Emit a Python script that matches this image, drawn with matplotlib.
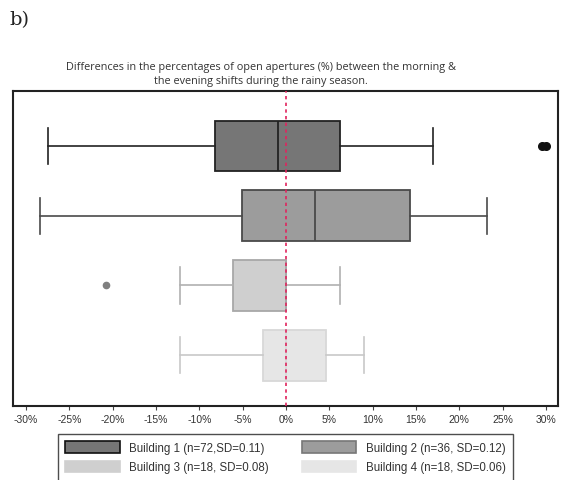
import matplotlib
matplotlib.use("Agg")
import matplotlib.pyplot as plt
from matplotlib.patches import Patch

# ---- data (percent) ----
labels = ["Building 1 (n=72,SD=0.11)", "Building 2 (n=36, SD=0.12)",
          "Building 3 (n=18, SD=0.08)", "Building 4 (n=18, SD=0.06)"]
whis_lo = [-27.5, -28.4, -12.2, -12.2]
q1 = [-8.2, -5.1, -6.1, -2.6]
median = [-0.9, 3.3, 0.0, 0.0]
q3 = [6.2, 14.3, 0.0, 4.6]
whis_hi = [17.0, 23.2, 6.2, 9.0]
fliers = [[29.5, 30.0], [], [-20.8], []]
xticks = [-30, -25, -20, -15, -10, -5, 0, 5, 10, 15, 20, 25, 30]

face = ["#767676", "#9c9c9c", "#cfcfcf", "#e6e6e6"]
edge = ["#222222", "#4a4a4a", "#a8a8a8", "#d8d8d8"]
whisk = ["#222222", "#4a4a4a", "#b0b0b0", "#c8c8c8"]
leg_edge = ["#111111", "#777777", "#d0d0d0", "#e6e6e6"]
flier_col = ["#111111", "#333333", "#808080", "#999999"]
flier_size = [5.5, 5, 4.5, 4]

fig = plt.figure(figsize=(5.67, 4.81), dpi=100)
ax = fig.add_axes([13/567, 1-407/481, 545/567, 315/481])

for i in range(4):
    st = dict(whislo=whis_lo[i], q1=q1[i], med=median[i], q3=q3[i],
              whishi=whis_hi[i], fliers=fliers[i])
    ax.bxp([st], positions=[i+1], vert=False, widths=0.73, patch_artist=True,
           capwidths=0.52, showfliers=True,
           boxprops=dict(facecolor=face[i], edgecolor=edge[i], linewidth=1.3),
           medianprops=dict(color=edge[i], linewidth=1.3),
           whiskerprops=dict(color=whisk[i], linewidth=1.2),
           capprops=dict(color=whisk[i], linewidth=1.2),
           flierprops=dict(marker='o', markersize=flier_size[i],
                           markerfacecolor=flier_col[i],
                           markeredgecolor=flier_col[i]))

ax.axvline(0, color="#e0245e", linestyle=(0, (2, 2)), linewidth=1.2, zorder=5)

ax.set_xlim(-31.5, 31.4)
ax.set_ylim(4.73, 0.21)
ax.set_yticks([])
ax.set_xticks(xticks)
ax.set_xticklabels([f"{t}%" for t in xticks], fontsize=7.5, color="#333333",
                   family="Liberation Sans")
ax.tick_params(axis='x', length=3, width=0.8, color="#444444", pad=3)
for s in ax.spines.values():
    s.set_linewidth(1.5)
    s.set_color("#222222")

fig.text(261/567, 1-74.5/481,
         "Differences in the percentages of open apertures (%) between the morning &\n"
         "the evening shifts during the rainy season.",
         ha="center", va="center", fontsize=7.8, family="Open Sans",
         color="#333333", linespacing=1.4)
fig.text(9/567, 1-20/481, "b)", ha="left", va="center", fontsize=14,
         family="DejaVu Serif", color="#222222")

handles = [Patch(facecolor=face[i], edgecolor=leg_edge[i], linewidth=1.2) for i in range(4)]
order = [0, 2, 1, 3]
leg = fig.legend([handles[i] for i in order], [labels[i] for i in order],
                 loc="upper left", bbox_to_anchor=(58/567, 1-435/481, 455/567, 0),
                 borderaxespad=0,
                 ncol=2, mode="expand", prop=dict(family="Liberation Sans", size=8.3),
                 handlelength=4.7, handleheight=1.1, frameon=True, fancybox=False,
                 borderpad=0.65, labelspacing=0.6, handletextpad=0.8)
leg.get_frame().set_edgecolor("#222222")
leg.get_frame().set_linewidth(1.0)
for t in leg.get_texts():
    t.set_color("#333333")

fig.savefig("out.png", dpi=100)
